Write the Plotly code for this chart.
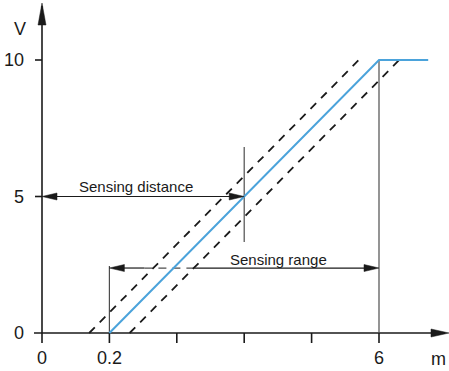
import plotly.graph_objects as go

# ---- data (schematic axis: tick positions in tick-step units) ----
x_tick_pos = [0, 1, 2, 3, 4, 5]
x_tick_labels = ["0", "0.2", "", "", "", "6"]
y_tick_vals = [0, 5, 10]
y_tick_labels = ["0", "5", "10"]

# characteristic output line (position units, volts)
curve_x = [1, 5, 5.73]
curve_y = [0, 10, 10]
# tolerance band (dashed) offsets in position units
tol_offset = 0.3
tol_x = [1, 5]
tol_y = [0, 10]

sensing_distance_x = [0, 3]
sensing_distance_y = 5
sensing_range_x = [1, 5]
sensing_range_y = 2.38

W, H = 449, 371
XS = 67.4   # px per x unit
YS = 27.3   # px per y unit
X0PX, Y0PX = 42, 333

x_range = [-X0PX / XS, (W - X0PX) / XS]
y_range = [-(H - Y0PX) / YS, Y0PX / YS]


def dx(p):
    return p / XS


def dy(p):
    return p / YS


BLACK = "#1a1a1a"
GRAY = "#4d4d4d"
BLUE = "#4ba3db"
FONT = "Liberation Sans"

fig = go.Figure()

# dashed tolerance lines
for s in (-1, 1):
    fig.add_trace(go.Scatter(
        x=[v + s * tol_offset for v in tol_x], y=tol_y, mode="lines",
        line=dict(color=BLACK, width=1.8, dash="8px,7px"),
        hoverinfo="skip", showlegend=False))

shapes = []


def line(x0, y0, x1, y1, color=BLACK, width=1.5, dash="solid"):
    shapes.append(dict(type="line", xref="x", yref="y", x0=x0, y0=y0,
                       x1=x1, y1=y1, line=dict(color=color, width=width, dash=dash),
                       layer="below"))


def arrowhead(xt, yt, direction, length, half):
    if direction == "r":
        pts = [(xt, yt), (xt - dx(length), yt + dy(half)), (xt - dx(length), yt - dy(half))]
    elif direction == "l":
        pts = [(xt, yt), (xt + dx(length), yt + dy(half)), (xt + dx(length), yt - dy(half))]
    else:
        pts = [(xt, yt), (xt - dx(half), yt - dy(length)), (xt + dx(half), yt - dy(length))]
    path = "M " + " L ".join(f"{a},{b}" for a, b in pts) + " Z"
    shapes.append(dict(type="path", xref="x", yref="y", path=path,
                       fillcolor=BLACK, line=dict(color=BLACK, width=0.5)))


# axes
line(-dx(8), 0, x_range[1] - dx(4), 0, width=1.6)
arrowhead(x_range[1], 0, "r", 18, 4)
line(0, -dy(10), 0, y_range[1] - dy(6), width=1.6)
arrowhead(0, y_range[1] - dy(3), "u", 22, 4)

# ticks
for xp in x_tick_pos[1:]:
    line(xp, 0, xp, -dy(10), width=1.6)
for yv in y_tick_vals[1:]:
    line(-dx(7), yv, 0, yv, width=1.6)

# reference vertical lines
line(curve_x[1], 0, curve_x[1], curve_y[1], color=GRAY, width=1.2)
line(sensing_range_x[0], 0, sensing_range_x[0], dy(67), color=GRAY, width=1.2)
line(sensing_distance_x[1], dy(333 - 147), sensing_distance_x[1], dy(333 - 242), color=GRAY, width=1.2)

# sensing distance arrow
line(sensing_distance_x[0] + dx(8), sensing_distance_y, sensing_distance_x[1] - dx(8), sensing_distance_y, width=1.2)
arrowhead(sensing_distance_x[0], sensing_distance_y, "l", 15, 3.5)
arrowhead(sensing_distance_x[1], sensing_distance_y, "r", 15, 3.5)

# sensing range arrow (broken where it crosses the tolerance band)
gx0 = sensing_range_x[0] + dx(35)
gx1 = sensing_range_x[0] + dx(85)
line(sensing_range_x[0] + dx(8), sensing_range_y, gx0, sensing_range_y, width=1.2)
line(gx0, sensing_range_y, gx1, sensing_range_y, color=GRAY, width=1.2, dash="8px,6px")
line(gx1, sensing_range_y, sensing_range_x[1] - dx(8), sensing_range_y, width=1.2)
arrowhead(sensing_range_x[0], sensing_range_y, "l", 15, 3.5)
arrowhead(sensing_range_x[1], sensing_range_y, "r", 15, 3.5)

# blue characteristic
fig.add_trace(go.Scatter(x=curve_x, y=curve_y, mode="lines",
                         line=dict(color=BLUE, width=2), hoverinfo="skip",
                         showlegend=False))

annotations = []
for xp, lab in zip(x_tick_pos, x_tick_labels):
    if lab:
        annotations.append(dict(x=xp, y=-dy(25), text=lab, showarrow=False,
                                xanchor="center", yanchor="middle",
                                font=dict(size=18, color=BLACK, family=FONT)))
for yv, lab in zip(y_tick_vals, y_tick_labels):
    annotations.append(dict(x=-dx(16), y=yv, text=lab, showarrow=False,
                            xanchor="right", yanchor="middle",
                            font=dict(size=18, color=BLACK, family=FONT)))
annotations.append(dict(x=-dx(22), y=dy(333 - 29), text="V", showarrow=False,
                        xanchor="center", yanchor="middle",
                        font=dict(size=18, color=BLACK, family=FONT)))
annotations.append(dict(x=dx(438 - 42), y=-dy(26), text="m", showarrow=False,
                        xanchor="center", yanchor="middle",
                        font=dict(size=18, color=BLACK, family=FONT)))
annotations.append(dict(x=dx(136 - 42), y=dy(333 - 186), text="Sensing distance",
                        showarrow=False, xanchor="center", yanchor="middle",
                        font=dict(size=15, color=BLACK, family=FONT)))
annotations.append(dict(x=dx(278 - 42), y=dy(333 - 259), text="Sensing range",
                        showarrow=False, xanchor="center", yanchor="middle",
                        font=dict(size=15, color=BLACK, family=FONT)))

fig.update_layout(
    width=W, height=H,
    margin=dict(l=0, r=0, t=0, b=0),
    paper_bgcolor="white", plot_bgcolor="white",
    xaxis=dict(range=x_range, visible=False, fixedrange=True),
    yaxis=dict(range=y_range, visible=False, fixedrange=True),
    shapes=shapes, annotations=annotations,
    showlegend=False,
)

fig.write_html("out.html", config={"displayModeBar": False},
               post_script="document.body.style.margin='0';document.body.style.overflow='hidden';")
